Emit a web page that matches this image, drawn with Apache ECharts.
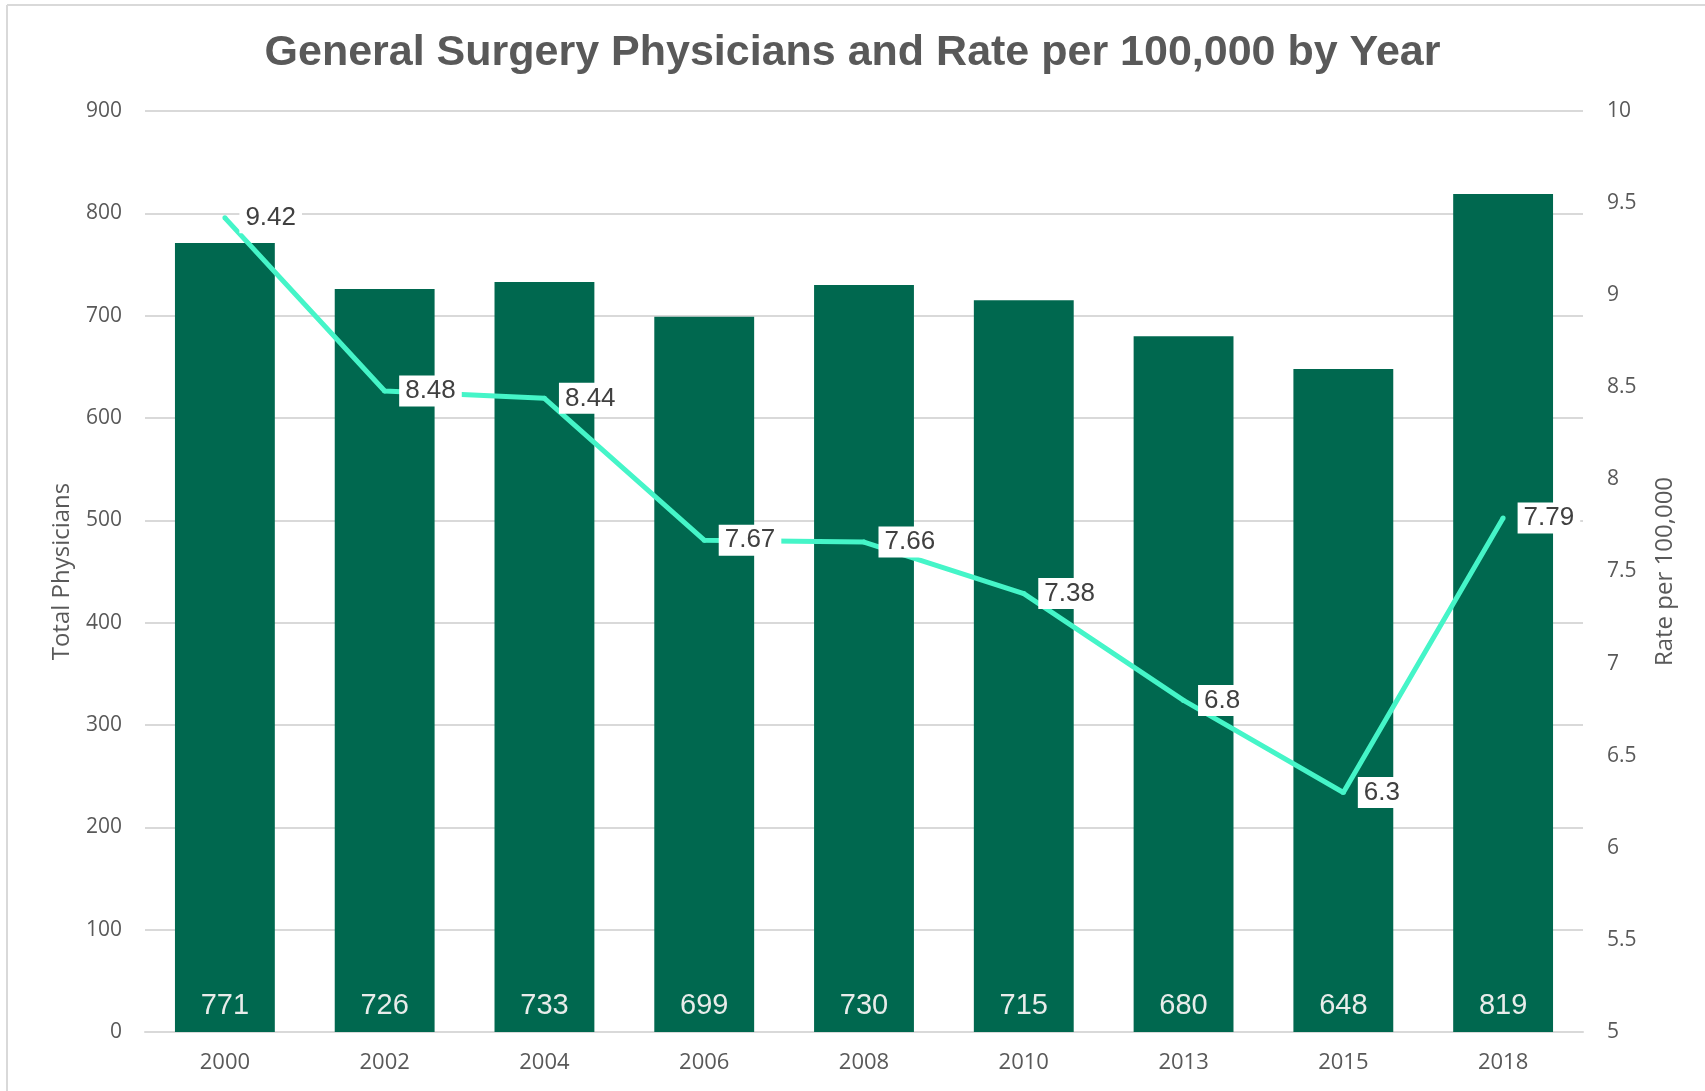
<!DOCTYPE html>
<html>
<head>
<meta charset="utf-8">
<title>General Surgery Physicians and Rate per 100,000 by Year</title>
<script src="https://cdn.jsdelivr.net/npm/echarts@6/dist/echarts.min.js"></script>
<style>
  html, body { margin: 0; padding: 0; background: #ffffff; }
  #chart { width: 1705px; height: 1091px; }
</style>
</head>
<body>
<div id="chart"></div>
<script>
// Survey years shown along the bottom
const years = ['2000', '2002', '2004', '2006', '2008', '2010', '2013', '2015', '2018'];
// Total general surgery physicians per year (bars, left axis)
const physicians = [771, 726, 733, 699, 730, 715, 680, 648, 819];
// Physicians per 100,000 population (line, right axis)
const ratePer100k = [9.42, 8.48, 8.44, 7.67, 7.66, 7.38, 6.8, 6.3, 7.79];

const chart = echarts.init(document.getElementById('chart'), null, { renderer: 'canvas' });

const axisText = '#595959';
const gridColor = '#d9d9d9';

chart.setOption({
  backgroundColor: '#ffffff',
  animation: false,
  title: {
    text: 'General Surgery Physicians and Rate per 100,000 by Year',
    left: 'center',
    top: 32,
    padding: 0,
    textStyle: {
      fontFamily: '"Liberation Sans", Arial, sans-serif',
      fontWeight: 'bold',
      fontSize: 43,
      color: axisText
    }
  },
  graphic: [
    // thin frame on the left and top edges of the chart area
    { type: 'line', shape: { x1: 7, y1: 5, x2: 7, y2: 1091 }, style: { stroke: gridColor, lineWidth: 2 }, silent: true },
    { type: 'line', shape: { x1: 7, y1: 5, x2: 1705, y2: 5 }, style: { stroke: gridColor, lineWidth: 2 }, silent: true }
  ],
  grid: { left: 145, right: 122, top: 111, bottom: 59 },
  xAxis: {
    type: 'category',
    data: years,
    axisTick: { show: false },
    axisLine: { lineStyle: { color: gridColor, width: 2 } },
    axisLabel: {
      margin: 20,
      fontFamily: '"Open Sans", sans-serif',
      fontSize: 22,
      color: axisText
    }
  },
  yAxis: [
    {
      type: 'value',
      min: 0,
      max: 900,
      interval: 100,
      name: 'Total Physicians',
      nameLocation: 'middle',
      nameRotate: 90,
      nameGap: 71,
      nameTextStyle: { fontFamily: '"Open Sans", sans-serif', fontSize: 24, color: axisText },
      axisLine: { show: false },
      axisTick: { show: false },
      splitLine: { lineStyle: { color: gridColor, width: 2 } },
      axisLabel: { margin: 23, fontFamily: '"Open Sans", sans-serif', fontSize: 21, color: axisText }
    },
    {
      type: 'value',
      min: 5,
      max: 10,
      interval: 0.5,
      position: 'right',
      name: 'Rate per 100,000',
      nameLocation: 'middle',
      nameRotate: 90,
      nameGap: 70,
      nameTextStyle: { fontFamily: '"Open Sans", sans-serif', fontSize: 24, color: axisText },
      axisLine: { show: false },
      axisTick: { show: false },
      splitLine: { show: false },
      axisLabel: { margin: 24, fontFamily: '"Open Sans", sans-serif', fontSize: 21, color: axisText }
    }
  ],
  series: [
    {
      name: 'Total Physicians',
      type: 'bar',
      yAxisIndex: 0,
      data: physicians,
      barCategoryGap: '37.5%',
      itemStyle: { color: '#00684f' },
      label: {
        show: true,
        position: 'insideBottom',
        distance: 12,
        fontFamily: '"Liberation Sans Narrow", "Arial Narrow", sans-serif',
        fontSize: 29,
        color: '#e8ecea'
      },
      z: 2
    },
    {
      name: 'Rate per 100,000',
      type: 'line',
      yAxisIndex: 1,
      data: ratePer100k,
      symbol: 'circle',
      symbolSize: 5,
      itemStyle: { color: '#45f5c8' },
      lineStyle: { color: '#45f5c8', width: 5 },
      label: {
        show: true,
        position: 'right',
        distance: 12,
        backgroundColor: '#ffffff',
        padding: [3, 6, 2, 6],
        fontFamily: '"Liberation Sans", Arial, sans-serif',
        fontSize: 26,
        color: '#404040'
      },
      z: 5
    }
  ]
});
</script>
</body>
</html>
